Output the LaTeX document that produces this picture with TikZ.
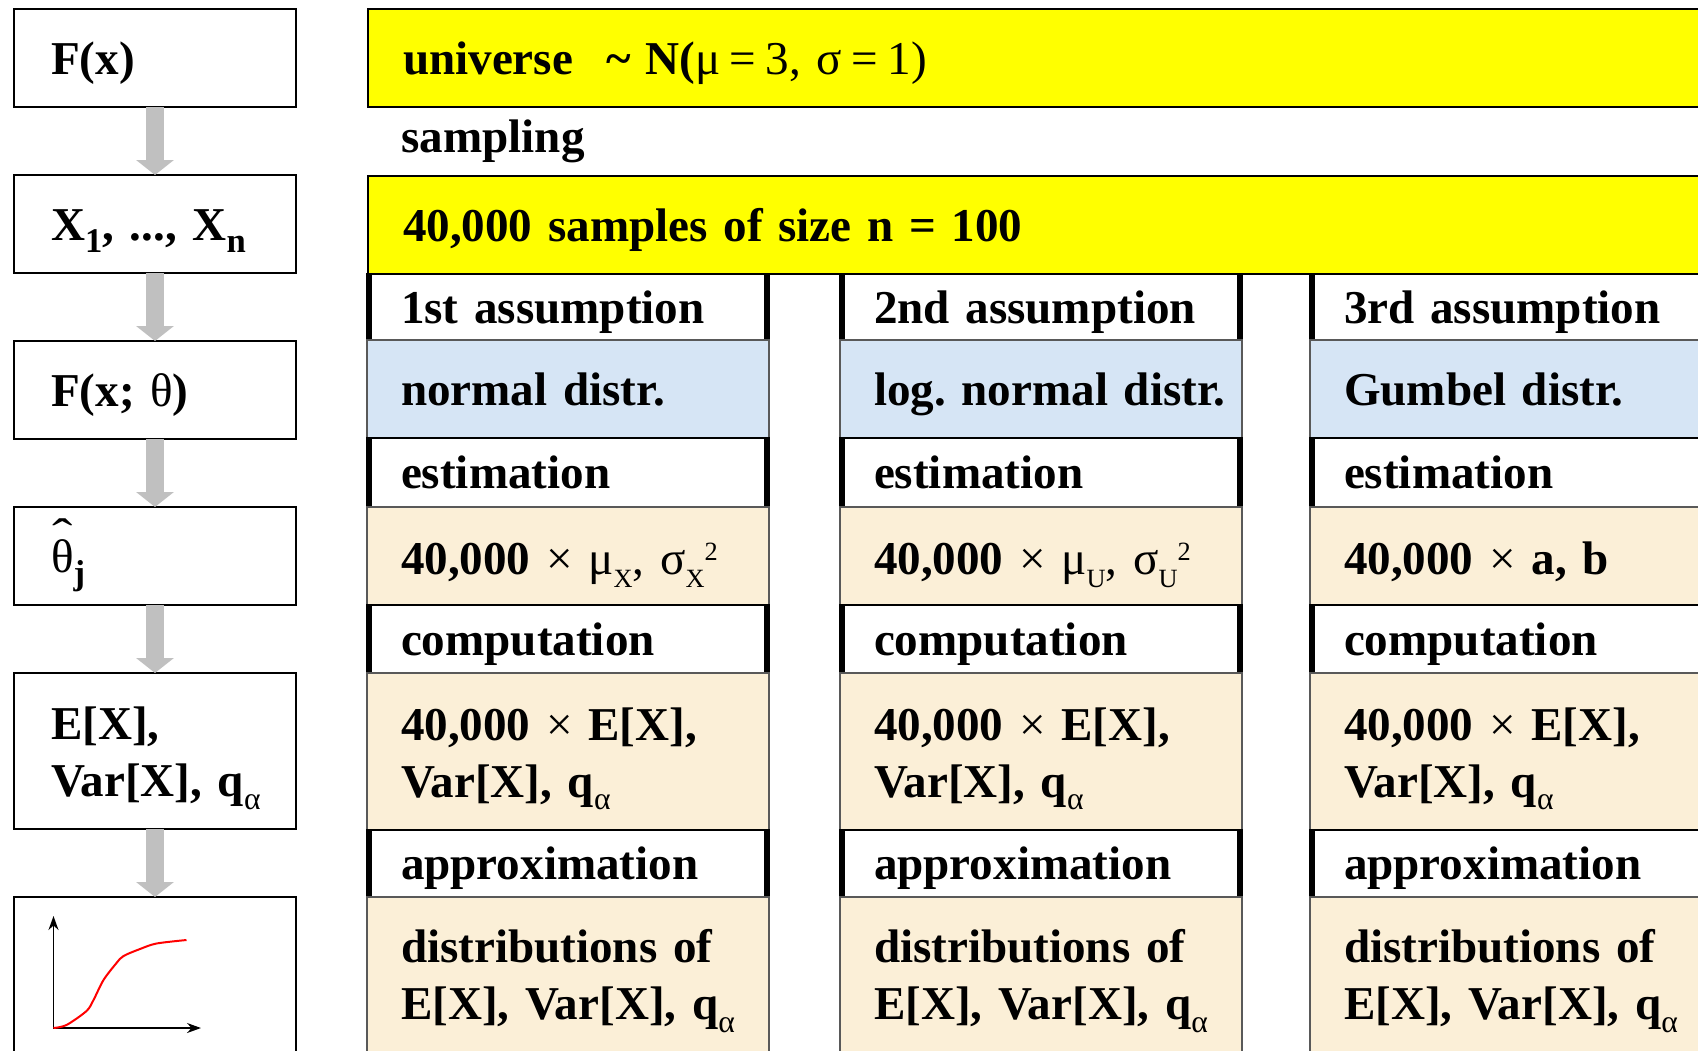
\documentclass[tikz,border=0pt]{standalone}
\usepackage{fontspec}
\setmainfont{Liberation Serif}
\usepackage{graphicx}
\usetikzlibrary{arrows.meta,positioning}

\definecolor{bandyellow}{RGB}{255,255,0}
\definecolor{distblue}{RGB}{214,229,245}
\definecolor{valbeige}{RGB}{251,239,215}
\definecolor{flowgrey}{RGB}{192,192,192}

% lowered / raised indices in text
\newcommand{\lowtxt}[2][18]{\raisebox{-0.27em}{\fontsize{#1}{#1}\selectfont #2}}
\newcommand{\hightxt}[2][15]{\raisebox{0.3em}{\fontsize{#1}{#1}\selectfont #2}}
\newcommand{\hattheta}{\leavevmode\setbox0=\hbox{\mdseries θ}%
  \rlap{\hbox to \wd0{\hss\raisebox{0.44em}{\mdseries\scalebox{1.3}[1]{ˆ}}\hss}}\box0}
\newcommand{\eqsp}{\hspace{0.2em}=\hspace{0.2em}}

\begin{document}
\begin{tikzpicture}[
				font=\fontsize{26.8}{32.4}\selectfont\bfseries\frenchspacing,
				leftpad/.style={align=left, inner xsep=0pt, inner ysep=0pt, outer sep=0pt,
					execute at begin node={\leftskip=#1\relax}},
				oneline/.style={text height=0.81cm, text depth=0.17cm},
				leftbox/.style={rectangle, draw, line width=0.04cm, fill=white, leftpad=0.74cm,
					text width=5.64cm, minimum height=1.96cm},
				band/.style={rectangle, draw, line width=0.04cm, fill=bandyellow, leftpad=0.70cm,
					text width=27.2cm, minimum height=1.96cm, anchor=north west, oneline},
				tabcell/.style={rectangle, leftpad=0.68cm, text width=8.04cm, line width=0.03cm},
				stepcell/.style={tabcell, oneline, draw=black, fill=white,
					path picture={\draw[line width=0.2cm]
						(path picture bounding box.south west) -- (path picture bounding box.north west)
						(path picture bounding box.south east) -- (path picture bounding box.north east);}},
				distcell/.style={tabcell, oneline, draw=black!65, fill=distblue},
				valcell/.style={tabcell, draw=black!65, fill=valbeige},
				flow/.style={-{Triangle[length=0.3cm, width=0.74cm]}, line width=0.36cm, draw=flowgrey},
				node distance=1.36cm
				]
				\useasboundingbox (0,0) rectangle (33.96,-21);
				\fill[white] (0,0) rectangle (33.96,-21);
				
				% left chain
				\node[leftbox, oneline, anchor=north west] (fx) at (0.28,-0.18) {F(x)};
				\node[leftbox, oneline, below=of fx] (smp) {X\lowtxt[19.7]{1}, ..., X\lowtxt[19.7]{n}};
				\node[leftbox, oneline, below=of smp] (fxt) {F(x; {\mdseries θ})};
				\node[leftbox, oneline, below=of fxt] (est) {\hattheta\lowtxt[19.7]{j}};
				\node[leftbox, below=of est, minimum height=3.12cm] (mom) {\rule{0pt}{1.0em}E[X],\\Var[X], q\lowtxt{\mdseries α}};
				\node[leftbox, below=of mom, minimum height=3.6cm] (cdf) {};
				
				\draw[flow] (fx) -- (smp);
				\draw[flow] (smp) -- (fxt);
				\draw[flow] (fxt) -- (est);
				\draw[flow] (est) -- (mom);
				\draw[flow] (mom) -- (cdf);
				
				% distribution sketch
				\begin{scope}[shift={(cdf.north west)}]
					\draw[{Stealth[length=0.28cm, width=0.2cm]}-{Stealth[length=0.28cm, width=0.2cm]}, line width=0.03cm]
						(0.79,-0.38) -- (0.79,-2.62) -- (3.74,-2.62);
					\draw[red, line width=0.04cm] plot[smooth] coordinates {(0.79,-2.62) (1.05,-2.56) (1.45,-2.28)
						(1.59,-2.06) (1.79,-1.66) (2.05,-1.32) (2.19,-1.18) (2.52,-1.04) (2.85,-0.93) (3.45,-0.86)};
				\end{scope}
				
				% universe and samples
				\node[band] (univ) at (7.36,-0.18) {universe\hspace{0.72em}\textasciitilde\hspace{0.3em}N({\mdseries μ\eqsp 3, σ\eqsp 1)}};
				\node[anchor=base west, inner sep=0pt] (smpl) at (8.02,-3.04) {sampling};
				\node[band] (draws) at (7.36,-3.52) {40,000 samples of size n = 100};
				
				% three assumptions
				\foreach \cx/\k/\hdr/\dst/\prm in {
					7.34/1/1st/{normal distr.}/{40,000 {\mdseries × μ\lowtxt[15]{X}, σ\lowtxt[15]{X}\hightxt{2}}},
					16.80/2/2nd/{log. normal distr.}/{40,000 {\mdseries × μ\lowtxt[15]{U}, σ\lowtxt[15]{U}\hightxt{2}}},
					26.20/3/3rd/{Gumbel distr.}/{40,000 {\mdseries ×} a, b}} {
					\node[stepcell, anchor=north west, minimum height=1.32cm] (hd\k) at (\cx,-5.48) {\hdr\ assumption};
					\node[distcell, below=0pt of hd\k, minimum height=1.96cm] (ds\k) {\dst};
					\node[stepcell, below=0pt of ds\k, minimum height=1.38cm] (es\k) {estimation};
					\node[valcell, text height=0.87cm, text depth=0.13cm, below=0pt of es\k, minimum height=1.96cm] (pm\k) {\prm};
					\node[stepcell, below=0pt of pm\k, minimum height=1.36cm] (cp\k) {computation};
					\node[valcell, below=0pt of cp\k, minimum height=3.14cm] (rs\k) {\rule{0pt}{1.0em}40,000 {\mdseries ×} E[X],\\Var[X], q\lowtxt{\mdseries α}};
					\node[stepcell, below=0pt of rs\k, minimum height=1.34cm] (ap\k) {approximation};
					\node[valcell, below=0pt of ap\k, minimum height=3.36cm] (fd\k) {distributions of\\E[X], Var[X], q\lowtxt{\mdseries α}};
				}
		\end{tikzpicture}
\end{document}
